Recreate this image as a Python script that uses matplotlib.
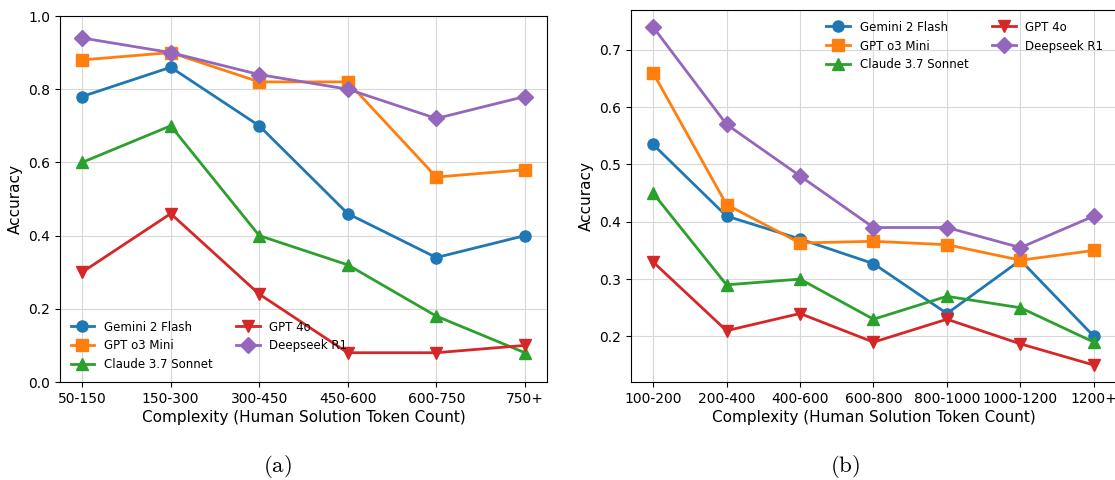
import matplotlib
matplotlib.use("Agg")
import matplotlib.pyplot as plt

# Panel (a)
cats_a = ["50-150", "150-300", "300-450", "450-600", "600-750", "750+"]
gemini_a = [0.78, 0.86, 0.70, 0.46, 0.34, 0.40]
o3mini_a = [0.88, 0.90, 0.82, 0.82, 0.56, 0.58]
claude_a = [0.60, 0.70, 0.40, 0.32, 0.18, 0.08]
gpt4o_a = [0.30, 0.46, 0.24, 0.08, 0.08, 0.10]
deepseek_a = [0.94, 0.90, 0.84, 0.80, 0.72, 0.78]

# Panel (b)
cats_b = ["100-200", "200-400", "400-600", "600-800", "800-1000", "1000-1200", "1200+"]
gemini_b = [0.535, 0.41, 0.37, 0.327, 0.24, 0.333, 0.20]
o3mini_b = [0.66, 0.43, 0.363, 0.366, 0.36, 0.333, 0.35]
claude_b = [0.45, 0.29, 0.30, 0.23, 0.27, 0.25, 0.19]
gpt4o_b = [0.33, 0.21, 0.24, 0.19, 0.23, 0.187, 0.15]
deepseek_b = [0.74, 0.57, 0.48, 0.39, 0.39, 0.355, 0.41]

names = ["Gemini 2 Flash", "GPT o3 Mini", "Claude 3.7 Sonnet", "GPT 4o", "Deepseek R1"]
colors = ["#1f77b4", "#ff7f0e", "#2ca02c", "#d62728", "#9467bd"]
markers = ["o", "s", "^", "v", "D"]

plt.rcParams["font.family"] = "DejaVu Sans"
plt.rcParams["mathtext.fontset"] = "cm"

fig = plt.figure(figsize=(11.15, 4.8), dpi=100)
ax1 = fig.add_axes([60/1115, 98/480, 487/1115, 366/480])
ax2 = fig.add_axes([631/1115, 98/480, 485/1115, 372/480])

def draw(ax, cats, series, legend_loc, anchor):
    x = list(range(len(cats)))
    for s, n, c, m in zip(series, names, colors, markers):
        ax.plot(x, s, color=c, marker=m, label=n, linewidth=2, markersize=8)
    ax.set_xticks(x)
    ax.set_xticklabels(cats, fontsize=10)
    ax.tick_params(axis="y", labelsize=10)
    ax.set_xlabel("Complexity (Human Solution Token Count)", fontsize=11, labelpad=3)
    ax.set_ylabel("Accuracy", fontsize=11)
    ax.grid(True, color="#d8d8d8", linewidth=0.8)
    ax.set_axisbelow(True)
    if anchor is None:
        ax.legend(loc=legend_loc, ncol=2, frameon=False, fontsize=8.5)
    else:
        ax.legend(loc=legend_loc, bbox_to_anchor=anchor, ncol=2, frameon=False, fontsize=8.5)

draw(ax1, cats_a, [gemini_a, o3mini_a, claude_a, gpt4o_a, deepseek_a], "lower left", None)
ax1.set_ylim(0, 1.0)
draw(ax2, cats_b, [gemini_b, o3mini_b, claude_b, gpt4o_b, deepseek_b], "upper right", (0.995, 1.0))

fig.text(277/1115, 1 - 467/480, r"$\mathrm{(a)}$", ha="center", va="center", fontsize=16.5)
fig.text(845/1115, 1 - 467/480, r"$\mathrm{(b)}$", ha="center", va="center", fontsize=16.5)

fig.savefig("out.png", dpi=100)
